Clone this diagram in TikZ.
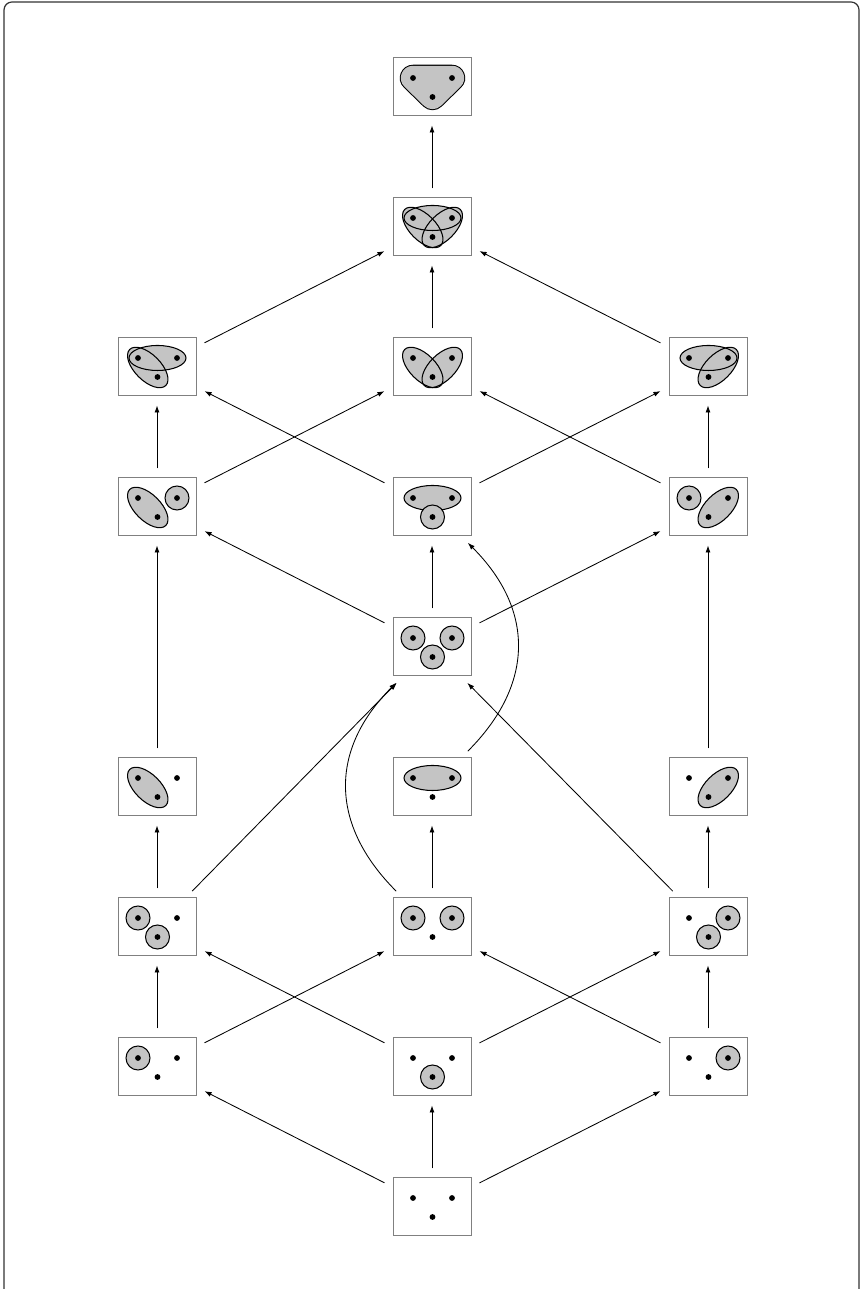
\documentclass[tikz,border=0pt]{standalone}
\usetikzlibrary{arrows.meta}
\definecolor{gfill}{HTML}{C4C4C4}
\tikzset{
  cell/.style={draw=black!50, line width=1pt, minimum width=78pt, minimum height=58pt, inner sep=0pt, fill=white},
  arr/.style={-{Latex[length=7pt,width=5pt]}, line width=0.85pt, shorten >=9pt, shorten <=9pt},
  outl/.style={draw=black, line width=1.05pt},
}
\newcommand\pdots{\fill (-19,9) circle (2.9pt) (20,9) circle (2.9pt) (0.5,-10) circle (2.9pt);}
\newcommand\cL[1]{\path[#1] (-19,9) circle (12pt);}
\newcommand\cR[1]{\path[#1] (20,9) circle (12pt);}
\newcommand\cB[1]{\path[#1] (0.5,-10) circle (12pt);}
\newcommand\eLR[1]{\path[#1] (0.5,9) ellipse [x radius=28.5pt, y radius=12.5pt];}
\newcommand\eLB[1]{\path[#1] (-9.25,-0.5) ellipse [x radius=25.5pt, y radius=13pt, rotate=-45];}
\newcommand\eRB[1]{\path[#1] (10.25,-0.5) ellipse [x radius=25.5pt, y radius=13pt, rotate=45];}
\begin{document}
\begin{tikzpicture}[x=1pt,y=1pt]
\useasboundingbox (0,0) rectangle (862,1289);
\draw[black!80, line width=1.2pt, rounded corners=8pt] (4,-8) rectangle (859,1287);
% nodes
\node[cell] (a)  at (432,1202) {};
\node[cell] (b)  at (432,1062) {};
\node[cell] (cL) at (157,922) {};
\node[cell] (cC) at (432,922) {};
\node[cell] (cR) at (708,922) {};
\node[cell] (dL) at (157,782) {};
\node[cell] (dC) at (432,782) {};
\node[cell] (dR) at (708,782) {};
\node[cell] (e)  at (432,642) {};
\node[cell] (fL) at (157,502) {};
\node[cell] (fC) at (432,502) {};
\node[cell] (fR) at (708,502) {};
\node[cell] (gL) at (157,362) {};
\node[cell] (gC) at (432,362) {};
\node[cell] (gR) at (708,362) {};
\node[cell] (hL) at (157,222) {};
\node[cell] (hC) at (432,222) {};
\node[cell] (hR) at (708,222) {};
\node[cell] (i)  at (432,82) {};
% contents
\begin{scope}[shift={(a.center)}]
  \draw[line width=26.5pt, line join=round, black] (-19,9)--(20,9)--(0.5,-10)--cycle;
  \draw[line width=24.4pt, line join=round, draw=gfill, fill=gfill] (-19,9)--(20,9)--(0.5,-10)--cycle;
  \pdots
\end{scope}
\begin{scope}[shift={(b.center)}]
  \eLR{fill=gfill}\eLB{fill=gfill}\eRB{fill=gfill}
  \eLR{outl}\eLB{outl}\eRB{outl}\pdots
\end{scope}
\begin{scope}[shift={(cL.center)}]
  \eLR{fill=gfill}\eLB{fill=gfill}\eLR{outl}\eLB{outl}\pdots
\end{scope}
\begin{scope}[shift={(cC.center)}]
  \eLB{fill=gfill}\eRB{fill=gfill}\eLB{outl}\eRB{outl}\pdots
\end{scope}
\begin{scope}[shift={(cR.center)}]
  \eLR{fill=gfill}\eRB{fill=gfill}\eLR{outl}\eRB{outl}\pdots
\end{scope}
\begin{scope}[shift={(dL.center)}]
  \eLB{fill=gfill,outl}\cR{fill=gfill,outl}\pdots
\end{scope}
\begin{scope}[shift={(dC.center)}]
  \eLR{fill=gfill,outl}\cB{fill=gfill,outl}\pdots
\end{scope}
\begin{scope}[shift={(dR.center)}]
  \cL{fill=gfill,outl}\eRB{fill=gfill,outl}\pdots
\end{scope}
\begin{scope}[shift={(e.center)}]
  \cL{fill=gfill,outl}\cR{fill=gfill,outl}\cB{fill=gfill,outl}\pdots
\end{scope}
\begin{scope}[shift={(fL.center)}]
  \eLB{fill=gfill,outl}\pdots
\end{scope}
\begin{scope}[shift={(fC.center)}]
  \eLR{fill=gfill,outl}\pdots
\end{scope}
\begin{scope}[shift={(fR.center)}]
  \eRB{fill=gfill,outl}\pdots
\end{scope}
\begin{scope}[shift={(gL.center)}]
  \cL{fill=gfill,outl}\cB{fill=gfill,outl}\pdots
\end{scope}
\begin{scope}[shift={(gC.center)}]
  \cL{fill=gfill,outl}\cR{fill=gfill,outl}\pdots
\end{scope}
\begin{scope}[shift={(gR.center)}]
  \cR{fill=gfill,outl}\cB{fill=gfill,outl}\pdots
\end{scope}
\begin{scope}[shift={(hL.center)}]
  \cL{fill=gfill,outl}\pdots
\end{scope}
\begin{scope}[shift={(hC.center)}]
  \cB{fill=gfill,outl}\pdots
\end{scope}
\begin{scope}[shift={(hR.center)}]
  \cR{fill=gfill,outl}\pdots
\end{scope}
\begin{scope}[shift={(i.center)}]
  \pdots
\end{scope}
% connectors
\draw[arr] (b) -- (a);
\draw[arr] (cL) -- (b);
\draw[arr] (cC) -- (b);
\draw[arr] (cR) -- (b);
\draw[arr] (dL) -- (cL);
\draw[arr] (dL) -- (cC);
\draw[arr] (dC) -- (cL);
\draw[arr] (dC) -- (cR);
\draw[arr] (dR) -- (cC);
\draw[arr] (dR) -- (cR);
\draw[arr] (e) -- (dL);
\draw[arr] (e) -- (dC);
\draw[arr] (e) -- (dR);
\draw[arr] (fL) -- (dL);
\draw[arr] (fC) to[out=45,in=-45,looseness=1.2] (dC);
\draw[arr] (fR) -- (dR);
\draw[arr] (gL) -- (fL);
\draw[arr] (gL) -- (e);
\draw[arr] (gC) -- (fC);
\draw[arr] (gC) to[out=135,in=225,looseness=1.2] (e);
\draw[arr] (gR) -- (fR);
\draw[arr] (gR) -- (e);
\draw[arr] (hL) -- (gL);
\draw[arr] (hL) -- (gC);
\draw[arr] (hC) -- (gL);
\draw[arr] (hC) -- (gR);
\draw[arr] (hR) -- (gC);
\draw[arr] (hR) -- (gR);
\draw[arr] (i) -- (hL);
\draw[arr] (i) -- (hC);
\draw[arr] (i) -- (hR);
\end{tikzpicture}
\end{document}
